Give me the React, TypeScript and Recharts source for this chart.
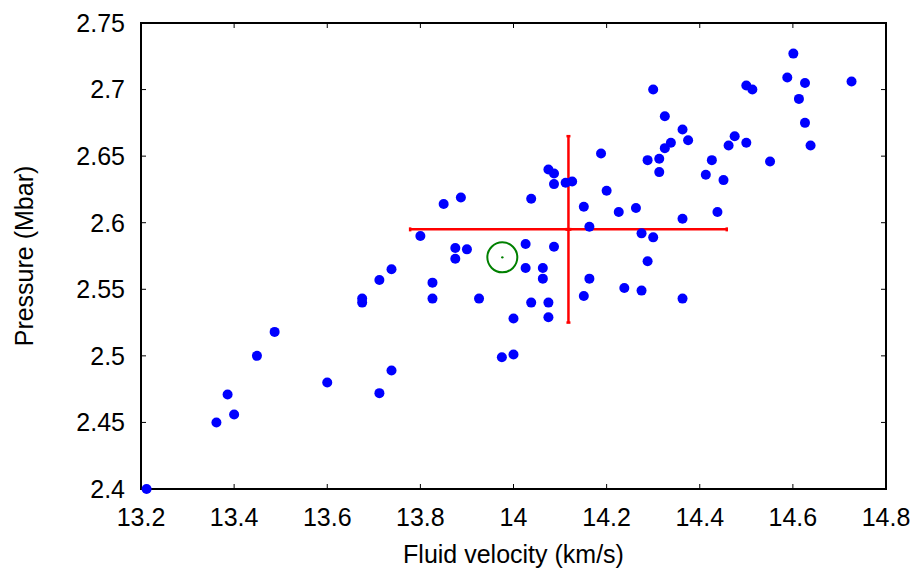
import React from 'react';
import { ScatterChart, Scatter, XAxis, YAxis, ErrorBar, Label, ReferenceArea } from 'recharts';

// fluid velocity (km/s) for each sample
const velocity = [
  13.212, 13.362, 13.386, 13.4, 13.449, 13.487, 13.6, 13.675, 13.675, 13.712,
  13.738, 13.712, 13.738, 13.8, 13.826, 13.826, 13.85, 13.887, 13.875, 13.9,
  13.875, 13.926, 13.975, 14.0, 14.0, 14.026, 14.026, 14.038, 14.038, 14.063,
  14.063, 14.075, 14.075, 14.075, 14.087, 14.087, 14.087, 14.112, 14.126, 14.151,
  14.151, 14.163, 14.163, 14.188, 14.2, 14.226, 14.238, 14.263, 14.275, 14.275,
  14.288, 14.288, 14.3, 14.3, 14.313, 14.313, 14.325, 14.325, 14.338, 14.363,
  14.363, 14.363, 14.375, 14.413, 14.426, 14.438, 14.451, 14.462, 14.475, 14.5,
  14.5, 14.513, 14.551, 14.588, 14.601, 14.613, 14.626, 14.626, 14.638, 14.726,
];

// pressure (Mbar), same order as velocity
const pressure = [
  2.4, 2.45, 2.471, 2.456, 2.5, 2.518, 2.48, 2.543, 2.54, 2.557,
  2.565, 2.472, 2.489, 2.59, 2.555, 2.543, 2.614, 2.619, 2.581, 2.58,
  2.573, 2.543, 2.499, 2.501, 2.528, 2.584, 2.566, 2.618, 2.54, 2.566,
  2.558, 2.64, 2.54, 2.529, 2.637, 2.629, 2.582, 2.63, 2.631, 2.612,
  2.545, 2.597, 2.558, 2.652, 2.624, 2.608, 2.551, 2.611, 2.592, 2.549,
  2.647, 2.571, 2.7, 2.589, 2.648, 2.638, 2.68, 2.656, 2.66, 2.67,
  2.603, 2.543, 2.662, 2.636, 2.647, 2.608, 2.632, 2.658, 2.665, 2.703,
  2.66, 2.7, 2.646, 2.709, 2.727, 2.693, 2.705, 2.675, 2.658, 2.706,
];

// mean with spread
const meanVelocity = 14.118;
const meanPressure = 2.595;
const spreadVelocity = 0.34;
const spreadPressure = 0.07;

// reference (circled) point
const refVelocity = 13.976;
const refPressure = 2.574;

const xTicks = [13.2, 13.4, 13.6, 13.8, 14, 14.2, 14.4, 14.6, 14.8];
const yTicks = [2.4, 2.45, 2.5, 2.55, 2.6, 2.65, 2.7, 2.75];
const xDomain = [13.2, 14.8];
const yDomain = [2.4, 2.75];

const samples = velocity.map((v, i) => ({ v, p: pressure[i] }));
const meanData = [{ v: meanVelocity, p: meanPressure, ev: spreadVelocity, ep: spreadPressure }];
const refData = [{ v: refVelocity, p: refPressure }];

const FONT = '"Liberation Sans", Arial, Helvetica, sans-serif';
const tickStyle = { fontSize: 25, fill: '#000', fontFamily: FONT };
const frame = { stroke: '#000', strokeWidth: 2 };
const tickLn = { stroke: '#000', strokeWidth: 1 };

const Dot = (props: any) => <circle cx={props.cx} cy={props.cy} r={5} fill="#0000ff" />;

const RefMark = (props: any) => (
  <g>
    <circle cx={props.cx} cy={props.cy} r={15} fill="none" stroke="#008000" strokeWidth={2} />
    <circle cx={props.cx} cy={props.cy} r={1.2} fill="#008000" />
  </g>
);

const Center = (props: any) => (
  <rect x={props.cx - 3} y={props.cy - 1.5} width={6} height={3} fill="#ff0000" />
);

export default function App() {
  return (
    <div style={{ position: 'absolute', left: 0, top: 0, background: '#fff' }}>
      <ScatterChart width={918} height={569} margin={{ top: 22, right: 31, bottom: 0, left: 0 }}>
        <XAxis
          type="number"
          dataKey="v"
          domain={xDomain}
          ticks={xTicks}
          height={80}
          axisLine={frame}
          tickLine={tickLn}
          tickSize={-5}
          tickMargin={24}
          tick={tickStyle}
        >
          <Label
            value="Fluid velocity (km/s)"
            position="insideBottom"
            offset={6}
            style={{ fontSize: 25, fill: '#000', fontFamily: FONT }}
          />
        </XAxis>
        <XAxis
          xAxisId="top"
          orientation="top"
          type="number"
          dataKey="v"
          domain={xDomain}
          ticks={xTicks}
          height={1}
          axisLine={frame}
          tickLine={tickLn}
          tickSize={-5}
          tickMargin={0}
          tick={() => <g />}
        />
        <YAxis
          type="number"
          dataKey="p"
          domain={yDomain}
          ticks={yTicks}
          width={141}
          axisLine={frame}
          tickLine={tickLn}
          tickSize={-5}
          tickMargin={21}
          tick={tickStyle}
        >
          <Label
            content={(props: any) => {
              const vb = props.viewBox;
              const cy = vb.y + vb.height / 2;
              return (
                <text
                  x={24}
                  y={cy}
                  transform={`rotate(-90, 24, ${cy})`}
                  textAnchor="middle"
                  dominantBaseline="central"
                  style={{ fontSize: 25, fill: '#000', fontFamily: FONT }}
                >
                  Pressure (Mbar)
                </text>
              );
            }}
          />
        </YAxis>
        <YAxis
          yAxisId="right"
          orientation="right"
          type="number"
          dataKey="p"
          domain={yDomain}
          ticks={yTicks}
          width={1}
          axisLine={frame}
          tickLine={tickLn}
          tickSize={-5}
          tickMargin={0}
          tick={() => <g />}
        />
        <ReferenceArea
          x1={13.2}
          x2={14.8}
          y1={2.4}
          y2={2.75}
          fill="none"
          fillOpacity={0}
          stroke="#000"
          strokeWidth={2}
          ifOverflow="visible"
        />
        <Scatter data={samples} shape={Dot} isAnimationActive={false} />
        <Scatter
          data={refData}
          xAxisId="top"
          yAxisId="right"
          shape={RefMark}
          isAnimationActive={false}
        />
        <Scatter data={meanData} shape={Center} isAnimationActive={false}>
          <ErrorBar dataKey="ev" direction="x" width={2} stroke="#ff0000" strokeWidth={2.5} />
          <ErrorBar dataKey="ep" direction="y" width={2} stroke="#ff0000" strokeWidth={2.5} />
        </Scatter>
      </ScatterChart>
    </div>
  );
}
